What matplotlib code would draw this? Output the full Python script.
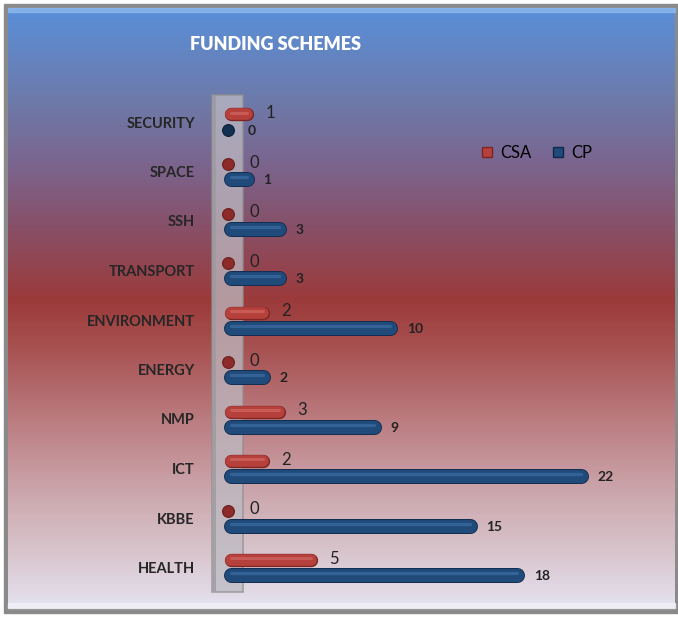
import numpy as np
import matplotlib.pyplot as plt
from matplotlib.colors import LinearSegmentedColormap
from matplotlib.patches import Rectangle, Patch
import matplotlib.patheffects as pe

categories = ['HEALTH', 'KBBE', 'ICT', 'NMP', 'ENERGY',
              'ENVIRONMENT', 'TRANSPORT', 'SSH', 'SPACE', 'SECURITY']
csa = [5, 0, 2, 3, 0, 2, 0, 0, 0, 1]
cp = [18, 15, 22, 9, 2, 10, 3, 3, 1, 0]

FONT = ['Lato', 'DejaVu Sans']
W, H = 678, 626

fig = plt.figure(figsize=(W / 100, H / 100), dpi=100)


def box(x0, y0, x1, y1):
    # pixel box (top-left origin) -> figure fraction
    return [x0 / W, 1 - y1 / H, (x1 - x0) / W, (y1 - y0) / H]


# background panel with gradient
bg = fig.add_axes(box(0, 0, W, H))
bg.set_xlim(0, W)
bg.set_ylim(H, 0)
bg.axis('off')
bg.add_patch(Rectangle((4, 4), 674, 609, color='#8a8a8a', zorder=0))
stops = [(0.0, '#5a8fd8'), (0.153, '#6d7aaa'), (0.253, '#7a6690'),
         (0.353, '#86526c'), (0.487, '#9c3a3a'), (0.57, '#a85252'),
         (0.687, '#bb7c80'), (0.82, '#cdaab0'), (0.92, '#dac8d0'),
         (1.0, '#e4e2f0')]
cmap = LinearSegmentedColormap.from_list('bgfade', stops)
grad = np.linspace(0, 1, 600).reshape(-1, 1)
bg.imshow(grad, extent=(8, 675, 608, 8), aspect='auto', cmap=cmap, zorder=1)
bg.add_patch(Rectangle((8, 8), 667, 4, color='#93bdf0', alpha=0.7, zorder=2))
bg.add_patch(Rectangle((8, 603), 667, 5, color='#f2f2fa', alpha=0.8, zorder=2))

# the grey "wall"
bg.add_patch(Rectangle((212, 95), 31, 497, fc='#bdbac2', ec='#8f8f8f',
                       lw=1.2, alpha=0.75, zorder=3))
bg.add_patch(Rectangle((213, 96), 3, 495, fc='#9c9aa0', lw=0, alpha=0.8, zorder=3))

# bars
ax = fig.add_axes(box(200, 85, 660, 605))
ax.set_facecolor('none')
ax.set_xlim((200 - 231) / 15.9, (660 - 231) / 15.9)
ax.set_ylim(-(605 - 567.5) / 49.5, 9 + (122 - 85) / 49.5)
for s in ax.spines.values():
    s.set_visible(False)
ax.set_xticks([])
ax.set_yticks(range(len(categories)))
ax.set_yticklabels(categories, fontfamily=FONT, fontweight='bold',
                   fontsize=10.5, color='#262626')
ax.tick_params(axis='y', length=0, pad=3.6)

d = 7.5 / 49.5
red, red_dk, red_lt = '#b5403c', '#7e2522', '#dc766f'
blue, blue_dk, blue_lt = '#1f4a7a', '#10294a', '#4a7bb2'
zero_x = -3 / 15.9

for i in range(len(categories)):
    y1 = i + d
    y2 = i - d
    if csa[i] > 0:
        ax.plot([0, csa[i]], [y1, y1], lw=8.4, color=red, solid_capstyle='round',
                path_effects=[pe.Stroke(linewidth=9.6, foreground=red_dk), pe.Normal()])
        ax.plot([0, csa[i]], [y1 + 0.035, y1 + 0.035], lw=2.2, color=red_lt,
                alpha=0.5, solid_capstyle='round')
    else:
        ax.plot(zero_x, y1, 'o', ms=8.5, mfc='#8c2b29', mec='#6a1e1c', mew=0.8)
    if cp[i] > 0:
        ax.plot([0, cp[i]], [y2, y2], lw=9.6, color=blue, solid_capstyle='round',
                path_effects=[pe.Stroke(linewidth=10.8, foreground=blue_dk), pe.Normal()])
        ax.plot([0, cp[i]], [y2 + 0.04, y2 + 0.04], lw=2.4, color=blue_lt,
                alpha=0.5, solid_capstyle='round')
    else:
        ax.plot(zero_x, y2, 'o', ms=8.5, mfc='#132f52', mec='#0c1f38', mew=0.8)
    ax.annotate(str(csa[i]), xy=(csa[i], y1), xytext=(13.5, 1),
                textcoords='offset points', va='center', ha='left',
                fontfamily=FONT, fontsize=12, color='#222222')
    ax.annotate(str(cp[i]), xy=(cp[i], y2), xytext=(12, -1),
                textcoords='offset points', va='center', ha='left',
                fontfamily=FONT, fontweight='bold', fontsize=10, color='#222222')

ax.legend(handles=[Patch(fc=red, ec=red_dk), Patch(fc=blue, ec=blue_dk)],
          labels=['CSA', 'CP'], ncol=2, frameon=False, loc='center',
          bbox_to_anchor=(537 / W, 1 - 153 / H), bbox_transform=fig.transFigure,
          handlelength=0.6, handleheight=0.6, handletextpad=0.5,
          columnspacing=1.3, prop={'family': FONT, 'size': 12})

fig.text(276 / W, 1 - 45 / H, 'FUNDING SCHEMES', color='white',
         fontfamily=FONT, fontweight='heavy', fontsize=13,
         ha='center', va='center')

fig.savefig('out.png', dpi=100)
